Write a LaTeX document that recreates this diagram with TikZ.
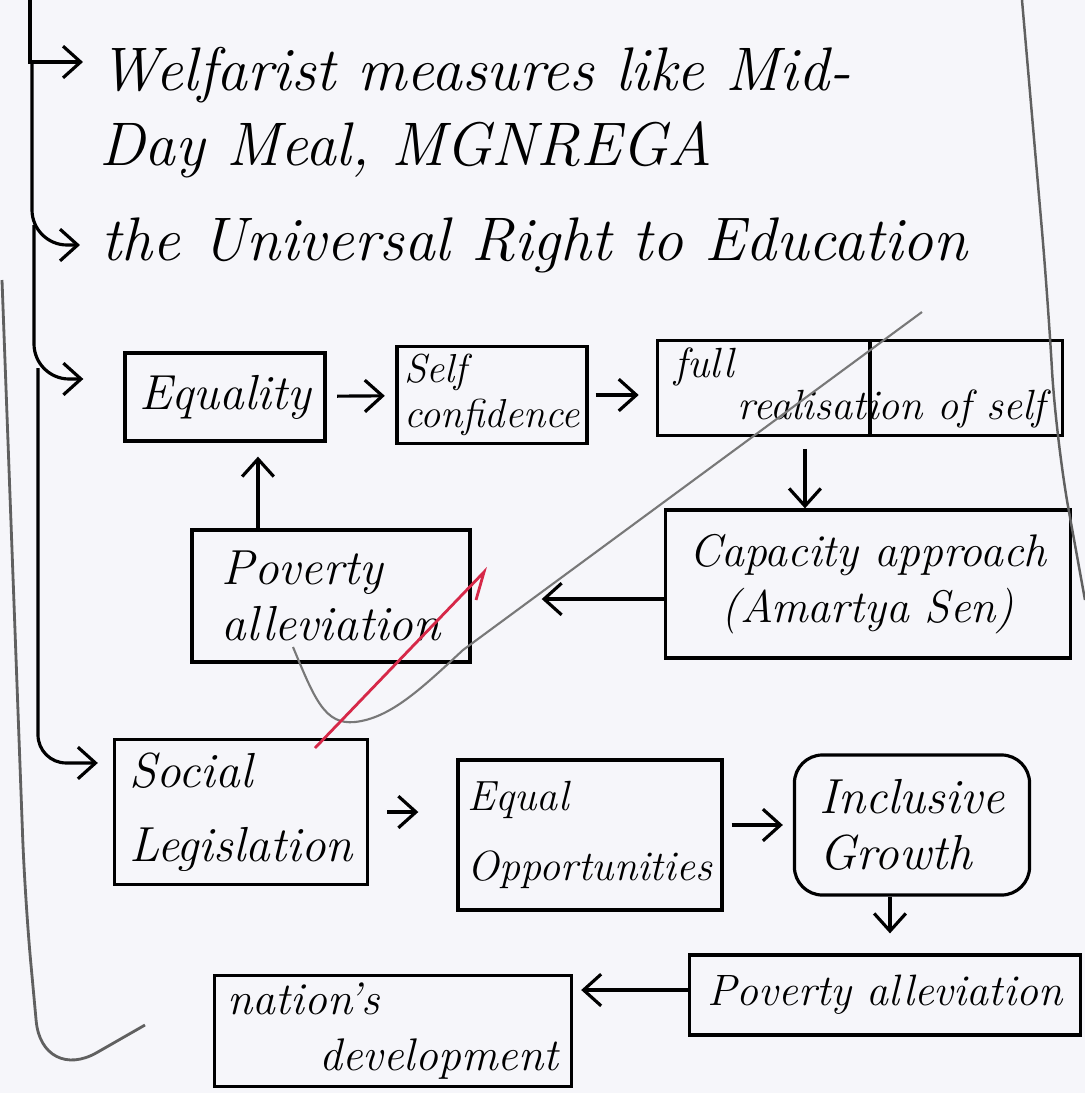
\documentclass[tikz,border=0pt]{standalone}
\usepackage{xcolor}
\usepackage{tikz}
\usetikzlibrary{arrows.meta, positioning}

\definecolor{paper}{RGB}{246,246,250}
\definecolor{pencil}{RGB}{120,120,120}
\definecolor{redpen}{RGB}{214,40,72}

\begin{document}
\begin{tikzpicture}[
  x=0.01cm, y=-0.01cm,
  >={Straight Barb[length=5pt, width=9pt]},
  line width=0.9pt,
  box/.style={rectangle, draw, align=center, inner sep=2pt, font=\fontsize{13}{16}\selectfont\itshape},
  note/.style={anchor=west, inner sep=0pt, font=\fontsize{17.5}{21}\selectfont\itshape},
  strike/.style={line width=0.6pt, draw=pencil},
]
  \fill[paper] (0,0) rectangle (1085,1093);
  \useasboundingbox (0,0) rectangle (1085,1093);

  % notes at the top
  \node[note] (welf) at (98,75) {Welfarist measures like Mid-};
  \node[note] (meal) at (98,150) {Day Meal, MGNREGA};
  \node[note] (rte) at (100,245) {the Universal Right to Education};

  % first chain
  \node[box, minimum width=2cm, minimum height=0.88cm, font=\fontsize{14}{16}\selectfont\itshape] (eq) at (225,397) {Equality};
  \node[box, minimum width=1.9cm, minimum height=0.9cm, align=left, font=\fontsize{11.5}{13}\selectfont\itshape] (selfc) at (492,395) {Self\\confidence};
  \node[box, minimum width=4.04cm, minimum height=0.87cm, align=left, font=\fontsize{12}{12}\selectfont\itshape] (full) at (860,388) {full\\\hspace*{1.5em}realisation of self};
  \node[box, minimum width=4.05cm, minimum height=1.48cm] (cap) at (868,584) {Capacity approach\\(Amartya Sen)};
  \node[box, minimum width=2.78cm, minimum height=1.32cm, align=left, font=\fontsize{14}{16}\selectfont\itshape] (povA) at (331,596) {Poverty\\alleviation};

  % second chain
  \node[box, minimum width=2.53cm, minimum height=1.45cm, align=left, font=\fontsize{14}{21}\selectfont\itshape] (soc) at (241,812) {Social\\Legislation};
  \node[box, minimum width=2.64cm, minimum height=1.5cm, align=left, font=\fontsize{12}{20}\selectfont\itshape] (eqop) at (590,835) {Equal\\Opportunities};
  \node[box, rounded corners=8pt, minimum width=2.35cm, minimum height=1.4cm, align=left, font=\fontsize{14}{16}\selectfont\itshape] (incl) at (912,825) {Inclusive\\Growth};
  \node[box, minimum width=3.9cm, minimum height=0.8cm, font=\fontsize{12.5}{14}\selectfont\itshape] (povB) at (885,995) {Poverty alleviation};
  \node[box, minimum width=3.57cm, minimum height=1.08cm, align=left] (nat) at (393,1031) {nation's\\\hspace*{2em}development};

  \draw ([xshift=0.1cm]full.north) -- ([xshift=0.1cm]full.south);

  % the bracket on the left
  \coordinate (b0) at (30,0);
  \coordinate (b1) at (32,62);
  \coordinate (b2) at (34,225);
  \coordinate (b3) at (38,368);
  \draw[->] (b0) |- ([shift={(-0.15cm,0.13cm)}]welf.west);
  \draw[->, rounded corners=10pt] (b1) |- ([xshift=-0.2cm]rte.west);
  \draw[->, rounded corners=10pt] (b2) |- ([shift={(-0.4cm,0.18cm)}]eq.west);
  \draw[->, rounded corners=8pt] (b3) |- ([shift={(-0.15cm,0.49cm)}]soc.west);

  \draw[->, shorten <=3pt, shorten >=3pt] (eq) -- (selfc);
  \draw[->, shorten <=2pt, shorten >=5pt] (selfc.east) -- (selfc.east -| full.west);
  \draw[->, shorten <=0.12cm] ([xshift=-0.55cm]full.south) -- ([xshift=-0.55cm]full.south |- cap.north);
  \draw[->, shorten >=0.7cm] ([yshift=-0.15cm]cap.west) -- ([yshift=-0.15cm]cap.west -| povA.east);
  \draw[->, shorten >=0.14cm] ([xshift=-0.73cm]povA.north) -- ([xshift=-0.73cm]povA.north |- eq.south);

  \draw[->, shorten <=0.18cm, shorten >=0.38cm] (soc.east) -- (soc.east -| eqop.west);
  \draw[->, shorten <=0.08cm, shorten >=0.1cm] ([yshift=0.1cm]eqop.east) -- ([yshift=0.1cm]eqop.east -| incl.west);
  \draw[->, shorten >=0.2cm] ([xshift=-0.22cm]incl.south) -- ([xshift=-0.22cm]incl.south |- povB.north);
  \draw[->, shorten >=0.08cm] ([yshift=0.05cm]povB.west) -- ([yshift=0.05cm]povB.west -| nat.east);

  % pencil strokes
  \draw[line width=0.8pt, draw=pencil!80!black, rounded corners=18pt] (2,280) -- (25,900) -- (42,1084) -- (145,1025);
  \draw[line width=0.7pt, draw=pencil!80!black, rounded corners=20pt] (1022,0) -- (1048,300) -- (1056,440) -- (1085,600);
  \draw[strike] (293,647) .. controls (315,700) and (325,725) .. (355,722) .. controls (390,718) and (420,690) .. (463,650) -- (922,312);
  \draw[line width=0.8pt, draw=redpen] (315,748) -- (484,572) -- (476,600);
\end{tikzpicture}
\end{document}
